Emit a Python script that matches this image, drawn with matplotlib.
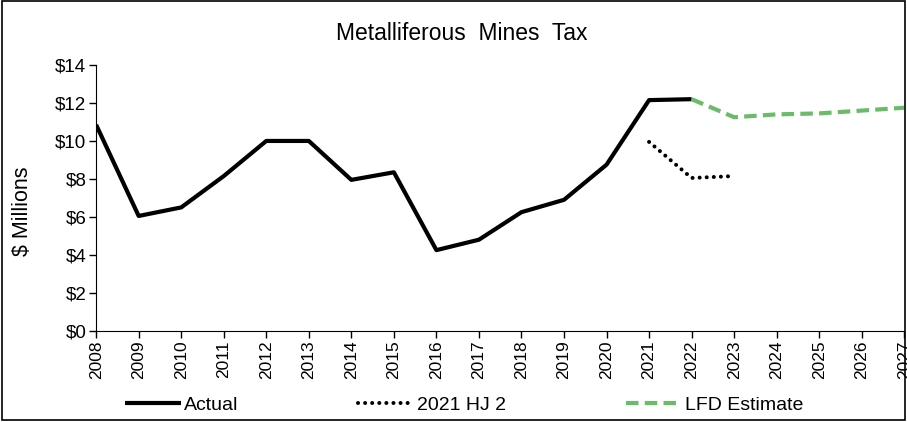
import matplotlib.pyplot as plt
from matplotlib.patches import Rectangle

plt.rcParams['font.family'] = ['Liberation Sans', 'DejaVu Sans']

years = list(range(2008, 2028))
actual_years = list(range(2008, 2023))
actual = [10.85, 6.05, 6.5, 8.15, 10.0, 10.0, 7.95, 8.35, 4.25, 4.8, 6.25, 6.9, 8.75, 12.15, 12.2]
hj2_years = [2021, 2022, 2023]
hj2 = [9.95, 8.05, 8.15]
lfd_years = [2022, 2023, 2024, 2025, 2026, 2027]
lfd = [12.2, 11.25, 11.4, 11.45, 11.6, 11.75]

fig = plt.figure(figsize=(9.07, 4.22), dpi=100)
ax = fig.add_axes([0.106, 0.216, 0.891, 0.63])

ax.plot(actual_years, actual, color='black', lw=3, label='Actual', solid_capstyle='butt')
ax.plot(hj2_years, hj2, color='black', lw=2.9, linestyle=(0, (0.01, 1.75)), dash_capstyle='round', label='2021 HJ 2')
ax.plot(lfd_years, lfd, color='#6abb6a', lw=3, linestyle=(0, (3, 1.5)), label='LFD Estimate')

ax.set_xlim(2008, 2027)
ax.set_ylim(0, 14)
ax.set_xticks(years)
ax.set_xticklabels([str(y) for y in years], rotation=90, fontsize=12.5)
ax.set_yticks(range(0, 15, 2))
ax.set_yticklabels(['$%d' % v for v in range(0, 15, 2)], fontsize=13.5)
ax.tick_params(direction='out', length=5, width=1, pad=2)
for s in ['top', 'right']:
    ax.spines[s].set_visible(False)

fig.text(0.025, 0.50, '$ Millions', rotation=90, fontsize=15.5, ha='center', va='center')
fig.text(0.509, 0.92, 'Metalliferous  Mines  Tax', fontsize=16.5, ha='center', va='center')

fig.legend(loc='center left', bbox_to_anchor=(0.138, 0.04), ncol=3, frameon=False,
           fontsize=14, handlelength=2.85, handletextpad=0.15, columnspacing=6.2,
           borderpad=0, borderaxespad=0)

fig.patches.append(Rectangle((0.002, 0.004), 0.996, 0.993, transform=fig.transFigure,
                             fill=False, edgecolor='black', lw=1.2))

fig.savefig('out.png', dpi=100)
